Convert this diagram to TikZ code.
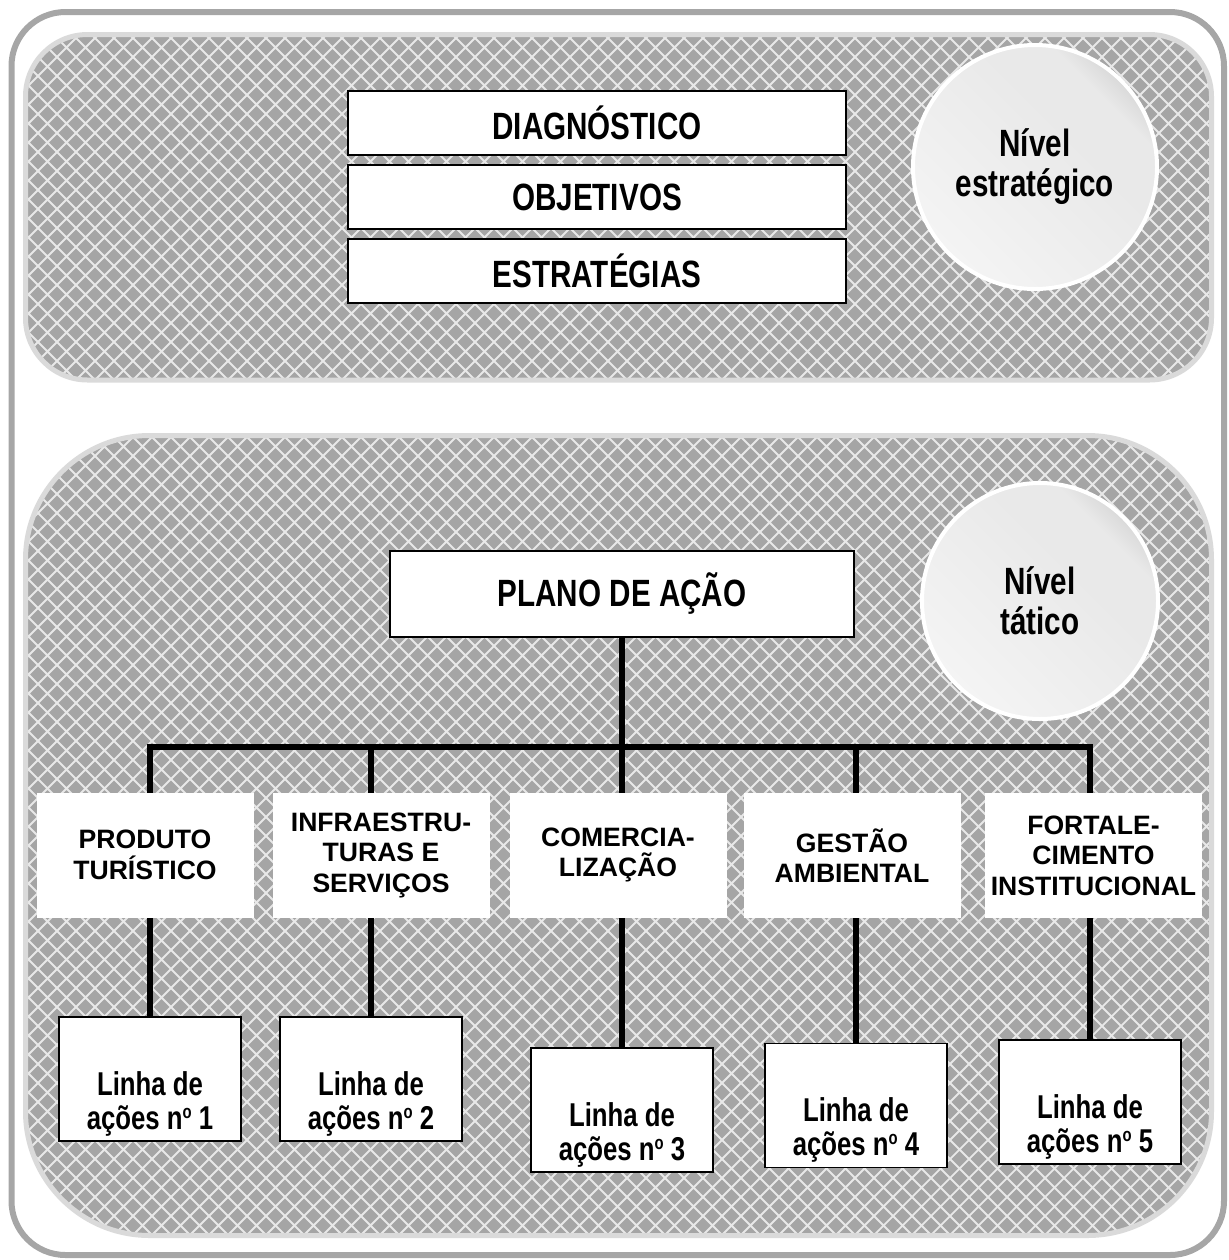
\documentclass[tikz,border=0pt]{standalone}
\usepackage{fontspec}
\setmainfont{Liberation Sans}
\newfontfamily\narrowsans[FakeStretch=0.78]{Liberation Sans}
\usetikzlibrary{positioning}

\definecolor{framegray}{HTML}{A6A6A6}
\definecolor{panelgray}{HTML}{A5A5A5}
\definecolor{panelrim}{HTML}{DADADA}
\definecolor{hatchwhite}{HTML}{E8E8E8}
\definecolor{orbA}{HTML}{F4F4F4}
\definecolor{orbB}{HTML}{E9E9E9}
\definecolor{orbC}{HTML}{CACACA}

\pgfdeclareverticalshading{orb}{100bp}{color(0bp)=(orbA); color(25bp)=(orbA);
  color(60bp)=(orbB); color(70bp)=(orbB); color(80bp)=(orbC); color(100bp)=(orbC)}

\pgfdeclarelayer{back}
\pgfdeclarelayer{wires}
\pgfsetlayers{back,wires,main}

% small raised o for "no"
\newcommand\nro{\raisebox{5.5pt}{\fontsize{9.5}{9.5}\selectfont o}}

\begin{document}
\begin{tikzpicture}[x=0.5pt,y=-0.5pt,
    hatch/.style={draw=hatchwhite,line width=0.9pt},
    wire/.style={draw=black,line width=3pt},
    stage/.style={draw,line width=0.9pt,fill=white,minimum width=249pt,minimum height=32pt,
        font=\narrowsans\fontsize{19}{21}\selectfont\bfseries},
    planbox/.style={stage,minimum width=232pt,minimum height=43pt},
    tier/.style={circle,draw=white,line width=2pt,shading=orb,shading angle=-45,
        align=center,font=\narrowsans\fontsize{19}{20}\selectfont\bfseries},
    areabox/.style={fill=white,minimum width=108.5pt,minimum height=62.5pt,inner sep=0.5pt,
        align=center,font=\fontsize{13.3}{15.25}\selectfont\bfseries},
    actbox/.style={draw,line width=0.9pt,fill=white,minimum width=91pt,minimum height=62pt,
        inner ysep=1pt,align=center,text height=54pt,text depth=3.7pt,
        font=\narrowsans\fontsize{16.5}{17}\selectfont\bfseries}]
    \useasboundingbox (0,0) rectangle (1228,1260);

    \begin{pgfonlayer}{back}
        \draw[framegray,line width=3pt,rounded corners=27pt] (11.5,12) rectangle (1224,1255);
        \foreach \y/\yy/\r in {34.5/380/31pt, 435.5/1235.5/62pt}{
            \begin{scope}
                \clip[rounded corners=\r] (25.5,\y) rectangle (1211.5,\yy);
                \fill[panelgray] (0,0) rectangle (1228,1260);
                \draw[hatch] \foreach \k in {-70,...,70}{(\k*19,0) -- ++(1300,1300)}
                             \foreach \k in {0,...,135}{(\k*19,0) -- ++(-1300,1300)};
            \end{scope}
            \draw[panelrim,line width=2.5pt,rounded corners=\r] (25.5,\y) rectangle (1211.5,\yy);
        }
    \end{pgfonlayer}

    % strategic level
    \node[stage] (diag) at (597,123) {DIAGNÓSTICO};
    \node[stage] (obj) at (597,197) {OBJETIVOS};
    \node[stage] (estr) at (597,271) {ESTRATÉGIAS};
    \node[tier,minimum size=122pt] (strat) at (1035,167) {Nível\\estratégico};

    % tactical level
    \node[planbox] (plan) at (622,594) {PLANO DE AÇÃO};
    \node[tier,minimum size=118pt] (tact) at (1040,601) {Nível\\tático};

    \node[areabox] (area1) at (145,855) {PRODUTO\\TURÍSTICO};
    \node[areabox] (area2) at (381,855) {INFRAESTRU-\\TURAS E\\SERVIÇOS};
    \node[areabox] (area3) at (618,855) {COMERCIA-\\LIZAÇÃO};
    \node[areabox] (area4) at (852,855.5) {GESTÃO\\AMBIENTAL};
    \node[areabox] (area5) at (1093.5,855.5) {FORTALE-\\CIMENTO\\INSTITUCIONAL};

    \node[actbox] (act1) at (150,1079) {Linha de\\ações n\nro{} 1};
    \node[actbox] (act2) at (371,1079) {Linha de\\ações n\nro{} 2};
    \node[actbox] (act3) at (622,1110) {Linha de\\ações n\nro{} 3};
    \node[actbox] (act4) at (856,1105.5) {Linha de\\ações n\nro{} 4};
    \node[actbox] (act5) at (1090,1102) {Linha de\\ações n\nro{} 5};

    \coordinate (bus) at (622,747);
    \begin{pgfonlayer}{wires}
        \draw[wire] (plan) -- (bus);
        \draw[wire] (act1.north) |- (bus) -| (act5.north);
        \foreach \i in {2,3,4}
            \draw[wire] (bus -| act\i.north) -- (act\i.north);
    \end{pgfonlayer}
\end{tikzpicture}
\end{document}
